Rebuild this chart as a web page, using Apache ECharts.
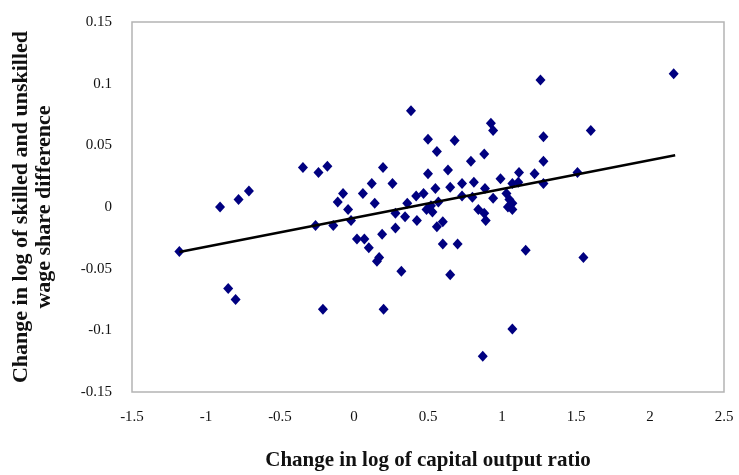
<!DOCTYPE html>
<html>
<head>
<meta charset="utf-8">
<script src="https://cdn.jsdelivr.net/npm/echarts@6/dist/echarts.min.js"></script>
<style>
  html, body { margin: 0; padding: 0; background: #fff; }
  #chart { width: 739px; height: 475px; }
</style>
</head>
<body>
<div id="chart"></div>
<script>
// change in log of capital output ratio
var capitalX = [
  -1.18, -0.905, -0.78, -0.71, -0.85, -0.80, -0.345, -0.24, -0.18, -0.26,
  -0.14, -0.21, -0.11, -0.074, -0.04, -0.02, 0.02, 0.07, 0.06, 0.10,
  0.12, 0.14, 0.17, 0.155, 0.19, 0.196, 0.20, 0.26, 0.28, 0.28,
  0.32, 0.345, 0.36, 0.385, 0.42, 0.425, 0.47, 0.49, 0.50, 0.50,
  0.52, 0.53, 0.55, 0.56, 0.56, 0.57, 0.60, 0.60, 0.635, 0.65,
  0.65, 0.68, 0.70, 0.73, 0.73, 0.79, 0.80, 0.81, 0.84, 0.88,
  0.88, 0.885, 0.89, 0.87, 0.925, 0.94, 0.94, 0.99, 1.03, 1.05,
  1.07, 1.04, 1.07, 1.07, 1.11, 1.115, 1.07, 1.16, 1.22, 1.26,
  1.28, 1.28, 1.28, 1.51, 1.55, 1.60, 2.16
]
// change in log of skilled/unskilled wage share difference
var wageY = [
  -0.036, 0.0, 0.006, 0.013, -0.066, -0.075, 0.032, 0.028, 0.033, -0.015,
  -0.015, -0.083, 0.004, 0.011, -0.002, -0.011, -0.026, -0.026, 0.011, -0.033,
  0.019, 0.003, -0.041, -0.044, -0.022, 0.032, -0.083, 0.019, -0.005, -0.017,
  -0.052, -0.008, 0.003, 0.078, 0.009, -0.011, 0.011, -0.002, 0.055, 0.027,
  0.001, -0.004, 0.015, 0.045, -0.016, 0.004, -0.012, -0.030, 0.030, 0.016,
  -0.055, 0.054, -0.030, 0.019, 0.009, 0.037, 0.008, 0.020, -0.002, 0.043,
  -0.005, 0.015, -0.011, -0.121, 0.068, 0.062, 0.007, 0.023, 0.011, 0.006,
  0.003, 0.0, -0.002, 0.019, 0.020, 0.028, -0.099, -0.035, 0.027, 0.103,
  0.057, 0.037, 0.019, 0.028, -0.041, 0.062, 0.108
]
// fitted line end points
var trendX = [-1.18, 2.17]
var trendY = [-0.0365, 0.042]

var xTicks = [-1.5, 2.5, 0.5]   // min, max, step
var yTicks = [-0.15, 0.15, 0.05]

var points = capitalX.map(function(x, i) { return [x, wageY[i]] })
var trend = trendX.map(function(x, i) { return [x, trendY[i]] })

var chart = echarts.init(document.getElementById('chart'))
var serif = 'Liberation Serif, Times New Roman, serif'

chart.setOption({
  backgroundColor: '#fff',
  animation: false,
  grid: {
    left: 132,
    right: 15,
    top: 22,
    bottom: 83,
    outerBoundsMode: 'none',
    containLabel: false,
    show: true,
    borderColor: '#b4b4b4',
    borderWidth: 1.5
  },
  xAxis: {
    type: 'value',
    min: xTicks[0],
    max: xTicks[1],
    interval: xTicks[2],
    name: 'Change in log of capital output ratio',
    nameLocation: 'middle',
    nameGap: 58,
    nameTextStyle: { fontFamily: serif, fontWeight: 'bold', fontSize: 21, color: '#111' },
    axisLine: { show: false },
    axisTick: { show: false },
    splitLine: { show: false },
    axisLabel: { fontFamily: serif, fontSize: 15, color: '#111', margin: 18 }
  },
  yAxis: {
    type: 'value',
    min: yTicks[0],
    max: yTicks[1],
    interval: yTicks[2],
    name: 'Change in log of skilled and unskilled\nwage share difference',
    nameLocation: 'middle',
    nameRotate: 90,
    nameGap: 76,
    nameTextStyle: { fontFamily: serif, fontWeight: 'bold', fontSize: 22, color: '#111', lineHeight: 23 },
    axisLine: { show: false },
    axisTick: { show: false },
    splitLine: { show: false },
    axisLabel: { fontFamily: serif, fontSize: 15, color: '#111', margin: 20 }
  },
  series: [
    {
      type: 'scatter',
      data: points,
      symbol: 'diamond',
      symbolSize: [10, 11],
      itemStyle: { color: '#000080', opacity: 1 }
    },
    {
      type: 'line',
      data: trend,
      symbol: 'none',
      lineStyle: { color: '#000', width: 2.5 },
      z: 3
    }
  ]
})
</script>
</body>
</html>
